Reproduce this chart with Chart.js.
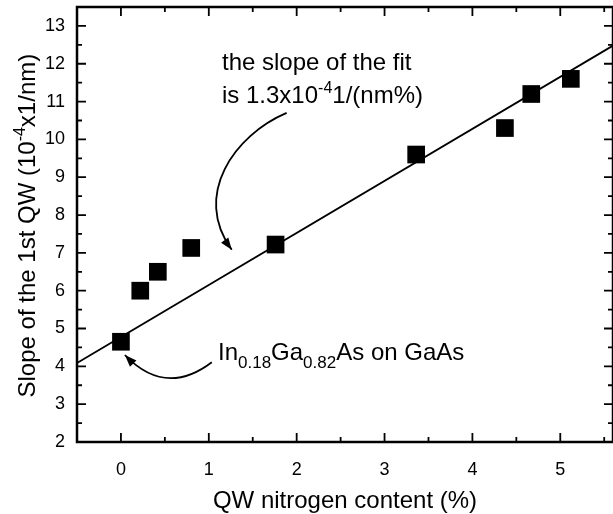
<!DOCTYPE html>
<html>
<head>
<meta charset="utf-8">
<script src="https://cdn.jsdelivr.net/npm/chart.js@4/dist/chart.umd.min.js"></script>
<style>
  html, body { margin: 0; padding: 0; background: #fff; }
  #wrap { width: 613px; height: 514px; }
</style>
</head>
<body>
<div id="wrap"><canvas id="chart" width="613" height="514"></canvas></div>
<script>
// measured points (nitrogen %, slope 1e-4 1/nm)
var nitrogen = [0, 0.22, 0.42, 0.8, 1.76, 3.36, 4.37, 4.67, 5.12];
var slopeVals = [4.65, 6.0, 6.5, 7.13, 7.22, 9.6, 10.3, 11.2, 11.6];
// linear fit drawn across the frame
var fitX = [-0.5, 5.6];
var fitY = [4.09, 12.48];

var xTicks = [0, 1, 2, 3, 4, 5];
var yTicks = [2, 3, 4, 5, 6, 7, 8, 9, 10, 11, 12, 13];
var xMinor = [-0.5, 0.5, 1.5, 2.5, 3.5, 4.5, 5.5];
var yMinor = [2.5, 3.5, 4.5, 5.5, 6.5, 7.5, 8.5, 9.5, 10.5, 11.5, 12.5, 13.5];

const FONT = '"Liberation Sans", Arial, sans-serif';

function arrowHead(ctx, x, y, fromX, fromY) {
	var a = Math.atan2(y - fromY, x - fromX);
	var len = 12, w = 4.5;
	ctx.beginPath();
	ctx.moveTo(x, y);
	ctx.lineTo(x - len * Math.cos(a) + w * Math.sin(a), y - len * Math.sin(a) - w * Math.cos(a));
	ctx.lineTo(x - len * Math.cos(a) - w * Math.sin(a), y - len * Math.sin(a) + w * Math.cos(a));
	ctx.closePath();
	ctx.fill();
}

// draws a run of [text, mode] pieces, mode 0 normal, 1 sub, 2 sup
function drawRuns(ctx, runs, x, y, big, small) {
	runs.forEach(function (r) {
		ctx.font = (r[1] ? small : big) + 'px ' + FONT;
		var dy = r[1] == 1 ? 8 : (r[1] == 2 ? -10 : 0);
		ctx.fillText(r[0], x, y + dy);
		x += ctx.measureText(r[0]).width;
	});
	return x;
}

function runsWidth(ctx, runs, big, small) {
	var w = 0;
	runs.forEach(function (r) {
		ctx.font = (r[1] ? small : big) + 'px ' + FONT;
		w += ctx.measureText(r[0]).width;
	});
	return w;
}

var framePlugin = {
	id: 'frame',
	afterDraw: function (chart) {
		var ctx = chart.ctx;
		var a = chart.chartArea;
		var xs = chart.scales.x, ys = chart.scales.y;
		ctx.save();
		ctx.strokeStyle = '#000';
		ctx.fillStyle = '#000';

		// frame
		ctx.lineWidth = 2.5;
		ctx.strokeRect(a.left, a.top, a.right - a.left, a.bottom - a.top);

		// inward ticks, all four sides
		ctx.lineWidth = 1.8;
		ctx.beginPath();
		xTicks.forEach(function (v) {
			var px = xs.getPixelForValue(v);
			ctx.moveTo(px, a.bottom); ctx.lineTo(px, a.bottom - 9);
			ctx.moveTo(px, a.top); ctx.lineTo(px, a.top + 9);
		});
		xMinor.forEach(function (v) {
			var px = xs.getPixelForValue(v);
			ctx.moveTo(px, a.bottom); ctx.lineTo(px, a.bottom - 5);
			ctx.moveTo(px, a.top); ctx.lineTo(px, a.top + 5);
		});
		yTicks.forEach(function (v) {
			var py = ys.getPixelForValue(v);
			ctx.moveTo(a.left, py); ctx.lineTo(a.left + 9, py);
			ctx.moveTo(a.right, py); ctx.lineTo(a.right - 9, py);
		});
		yMinor.forEach(function (v) {
			var py = ys.getPixelForValue(v);
			ctx.moveTo(a.left, py); ctx.lineTo(a.left + 5, py);
			ctx.moveTo(a.right, py); ctx.lineTo(a.right - 5, py);
		});
		ctx.stroke();

		// arrow to the fit line
		var p0 = [xs.getPixelForValue(1.886), ys.getPixelForValue(10.7)];
		var c1 = [xs.getPixelForValue(1.295), ys.getPixelForValue(10.12)];
		var c2 = [xs.getPixelForValue(0.807), ys.getPixelForValue(8.53)];
		var p1 = [xs.getPixelForValue(1.261), ys.getPixelForValue(7.08)];
		ctx.lineWidth = 1.8;
		ctx.beginPath();
		ctx.moveTo(p0[0], p0[1]);
		ctx.bezierCurveTo(c1[0], c1[1], c2[0], c2[1], p1[0], p1[1]);
		ctx.stroke();
		arrowHead(ctx, p1[0], p1[1], c2[0], c2[1]);

		// arrow to the InGaAs point
		var q0 = [xs.getPixelForValue(1.034), ys.getPixelForValue(4.11)];
		var qc = [xs.getPixelForValue(0.506), ys.getPixelForValue(3.18)];
		var q1 = [xs.getPixelForValue(0.045), ys.getPixelForValue(4.3)];
		ctx.beginPath();
		ctx.moveTo(q0[0], q0[1]);
		ctx.quadraticCurveTo(qc[0], qc[1], q1[0], q1[1]);
		ctx.stroke();
		arrowHead(ctx, q1[0], q1[1], qc[0], qc[1]);

		// annotation texts
		ctx.textBaseline = 'alphabetic';
		ctx.textAlign = 'left';
		drawRuns(ctx, [['the slope of the fit', 0]], 222, 70, 24, 16);
		drawRuns(ctx, [['is 1.3x10', 0], ['-4', 2], ['1/(nm%)', 0]], 222, 103, 24, 16);
		drawRuns(ctx, [['In', 0], ['0.18', 1], ['Ga', 0], ['0.82', 1], ['As on GaAs', 0]], 218, 360, 24, 17);

		// x axis title
		var xt = [['QW nitrogen content (%)', 0]];
		drawRuns(ctx, xt, (a.left + a.right) / 2 - runsWidth(ctx, xt, 24, 16) / 2, 508, 24, 16);

		// y axis title, rotated with superscript
		var yt = [['Slope of the 1st QW (10', 0], ['-4', 2], ['x1/nm)', 0]];
		ctx.translate(35, ys.getPixelForValue(7.72));
		ctx.rotate(-Math.PI / 2);
		drawRuns(ctx, yt, -runsWidth(ctx, yt, 24, 16) / 2, 0, 24, 16);
		ctx.restore();
	}
};

var pointData = nitrogen.map(function (n, i) { return {x: n, y: slopeVals[i]}; });
var fitData = fitX.map(function (n, i) { return {x: n, y: fitY[i]}; });

new Chart(document.getElementById('chart').getContext('2d'), {
	type: 'scatter',
	data: {
		datasets: [{
			label: 'fit',
			type: 'line',
			data: fitData,
			borderColor: '#000',
			borderWidth: 1.8,
			pointRadius: 0,
			fill: false,
			order: 2
		}, {
			label: 'data',
			data: pointData,
			pointStyle: 'rect',
			pointRadius: 12.5,
			pointHoverRadius: 12.5,
			backgroundColor: '#000',
			borderColor: '#000',
			borderWidth: 0,
			order: 1
		}]
	},
	plugins: [framePlugin],
	options: {
		responsive: false,
		animation: false,
		events: [],
		layout: { autoPadding: false, padding: { top: 7, right: 0, left: 0, bottom: 0 } },
		plugins: { legend: { display: false }, tooltip: { enabled: false } },
		scales: {
			x: {
				type: 'linear',
				min: -0.5,
				max: 5.6,
				grid: { display: false, drawTicks: false },
				border: { display: false },
				afterBuildTicks: function (scale) {
					scale.ticks = xTicks.map(function (v) { return {value: v}; });
				},
				afterFit: function (scale) {
					scale.height = 72;
					scale.paddingLeft = 0;
					scale.paddingRight = 0;
				},
				ticks: {
					padding: 17,
					color: '#000',
					font: { family: FONT, size: 18 },
					maxRotation: 0
				}
			},
			y: {
				type: 'linear',
				min: 2,
				max: 13.5,
				grid: { display: false, drawTicks: false },
				border: { display: false },
				afterBuildTicks: function (scale) {
					scale.ticks = yTicks.map(function (v) { return {value: v}; });
				},
				afterFit: function (scale) {
					scale.width = 77;
					scale.paddingTop = 0;
					scale.paddingBottom = 0;
				},
				ticks: {
					padding: 12,
					color: '#000',
					font: { family: FONT, size: 18 }
				}
			}
		}
	}
});
</script>
</body>
</html>
